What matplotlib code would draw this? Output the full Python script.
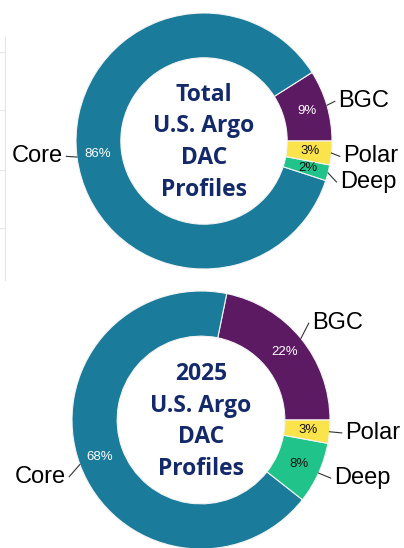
import numpy as np
import matplotlib.pyplot as plt

# slice order goes counter-clockwise from 3 o'clock
categories = ["BGC", "Core", "Deep", "Polar"]
total_vals = [9.0, 86.0, 2.0, 3.0]
y2025_vals = [21.8, 67.6, 7.7, 2.9]
colors = ["#5c1a62", "#1a7b9b", "#20c48a", "#fbe34c"]
pct_colors = ["white", "white", "#111111", "#111111"]

titles = ["Total\nU.S. Argo\nDAC\nProfiles", "2025\nU.S. Argo\nDAC\nProfiles"]

W, H = 404, 548
fig = plt.figure(figsize=(W / 100, H / 100), dpi=100)
fig.patch.set_facecolor("white")

# faint leftover gridline from the screenshot at the left edge
fig.add_artist(plt.Line2D([5 / W, 5 / W], [1 - 37 / H, 1 - 280 / H], color="#e6e6e6", lw=0.8))
for yy in [52, 110, 170, 228]:
    fig.add_artist(plt.Line2D([0, 5 / W], [1 - yy / H, 1 - yy / H], color="#e6e6e6", lw=0.8))


def donut(cx, cy, r_px, vals, title, label_pos):
    half = 220
    ax = fig.add_axes([(cx - half) / W, (H - cy - half) / H, 2 * half / W, 2 * half / H])
    ax.axis("off")

    width = 0.35
    wedges, _, autotexts = ax.pie(
        vals, colors=colors, startangle=0, counterclock=True, radius=1.0,
        autopct="%1.0f%%", pctdistance=1 - width / 2 + 0.01,
        wedgeprops=dict(width=width, edgecolor="#f4f4f4", linewidth=0.8),
        textprops=dict(fontsize=9.5, family="Liberation Sans"))
    for t, c in zip(autotexts, pct_colors):
        t.set_color(c)
    lim = half / r_px
    ax.set_xlim(-lim, lim)
    ax.set_ylim(-lim, lim)
    ax.set_aspect("equal")

    for w, name in zip(wedges, categories):
        ang = np.deg2rad((w.theta1 + w.theta2) / 2)
        x0, y0 = np.cos(ang), np.sin(ang)
        tx, ty = label_pos[name]
        side = 1 if tx > 0 else -1
        ax.plot([x0, tx - side * 0.025], [y0, ty], color="#333333", lw=0.8)
        ax.text(tx, ty, name, ha="left" if side > 0 else "right", va="center",
                fontsize=17, family="Liberation Sans", color="black")

    ax.text(0, -0.01, title, ha="center", va="center", fontsize=16.5, fontweight="bold",
            family="Open Sans", color="#13296a", linespacing=1.42)


donut(204, 141, 128, total_vals, titles[0],
      {"BGC": (1.047, 0.31), "Core": (-1.10, -0.12), "Deep": (1.06, -0.32), "Polar": (1.086, -0.12)})
donut(201, 420, 129, y2025_vals, titles[1],
      {"BGC": (0.86, 0.75), "Core": (-1.047, -0.44), "Deep": (1.03, -0.45), "Polar": (1.116, -0.10)})

fig.savefig("out.png", dpi=100)
